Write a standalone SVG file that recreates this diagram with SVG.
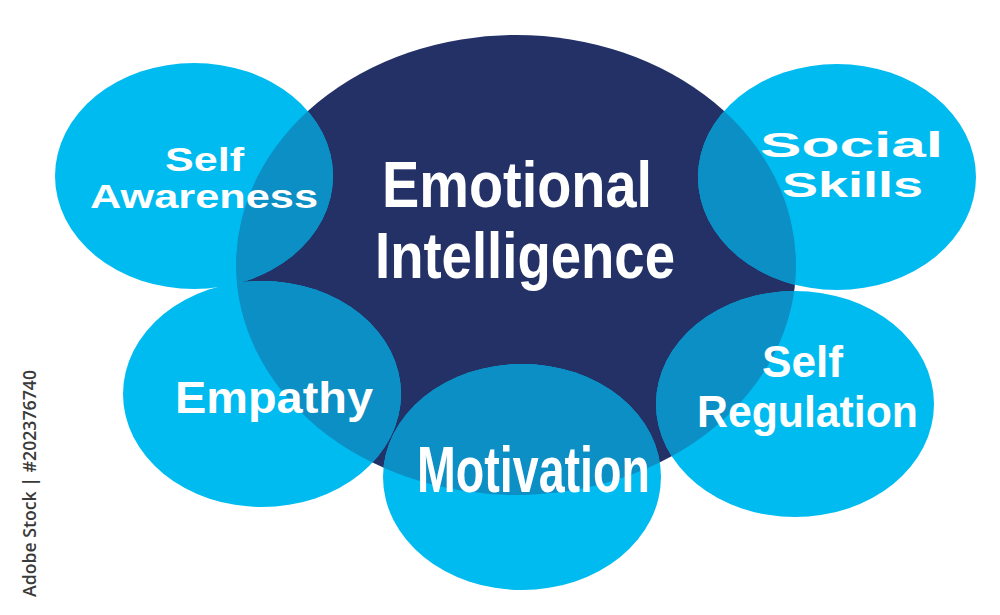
<svg xmlns="http://www.w3.org/2000/svg" width="1000" height="615" viewBox="0 0 1000 615">
<style>
.sat{fill:#00bbf0}
.ov{fill:#0b8fc5}
.core{fill:#233166}
.t{font-family:"Liberation Sans",Arial,sans-serif;font-weight:bold;fill:#ffffff;text-anchor:middle}
.wm{font-family:"Open Sans","Liberation Sans",sans-serif;font-weight:600;fill:#3a3a3a;font-size:18px}
</style>
<defs>
<clipPath id="clipEI"><ellipse cx="516" cy="265" rx="280" ry="230"/></clipPath>
</defs>
<rect width="1000" height="615" fill="#ffffff"/>
<g id="emotional-intelligence">
<ellipse class="core" cx="516" cy="265" rx="280" ry="230"/>
<text class="t" x="517" y="207" font-size="65" textLength="270" lengthAdjust="spacingAndGlyphs">Emotional</text>
<text class="t" x="525" y="278" font-size="65" textLength="300" lengthAdjust="spacingAndGlyphs">Intelligence</text>
</g>
<g id="self-awareness">
<ellipse class="sat" cx="194" cy="176" rx="139" ry="113"/>
<ellipse class="ov" cx="194" cy="176" rx="139" ry="113" clip-path="url(#clipEI)"/>
<text class="t" x="204.5" y="171" font-size="34" textLength="79" lengthAdjust="spacingAndGlyphs">Self</text>
<text class="t" x="204" y="208" font-size="34" textLength="228" lengthAdjust="spacingAndGlyphs">Awareness</text>
</g>
<g id="social-skills">
<ellipse class="sat" cx="837" cy="177" rx="139" ry="113"/>
<ellipse class="ov" cx="837" cy="177" rx="139" ry="113" clip-path="url(#clipEI)"/>
<text class="t" x="851.5" y="157" font-size="35" textLength="183" lengthAdjust="spacingAndGlyphs">Social</text>
<text class="t" x="852.5" y="197" font-size="35" textLength="141" lengthAdjust="spacingAndGlyphs">Skills</text>
</g>
<g id="empathy">
<ellipse class="sat" cx="262" cy="394" rx="139" ry="113"/>
<ellipse class="ov" cx="262" cy="394" rx="139" ry="113" clip-path="url(#clipEI)"/>
<text class="t" x="274" y="413" font-size="45" textLength="198" lengthAdjust="spacingAndGlyphs">Empathy</text>
</g>
<g id="self-regulation">
<ellipse class="sat" cx="795" cy="404" rx="139" ry="113"/>
<ellipse class="ov" cx="795" cy="404" rx="139" ry="113" clip-path="url(#clipEI)"/>
<text class="t" x="802.5" y="377" font-size="45" textLength="81" lengthAdjust="spacingAndGlyphs">Self</text>
<text class="t" x="807.5" y="427" font-size="45" textLength="221" lengthAdjust="spacingAndGlyphs">Regulation</text>
</g>
<g id="motivation">
<ellipse class="sat" cx="522" cy="477" rx="139" ry="113"/>
<ellipse class="ov" cx="522" cy="477" rx="139" ry="113" clip-path="url(#clipEI)"/>
<text class="t" x="533.5" y="492" font-size="65" textLength="233" lengthAdjust="spacingAndGlyphs">Motivation</text>
</g>
<text class="wm" transform="translate(36,597) rotate(-90)" textLength="227" lengthAdjust="spacingAndGlyphs">Adobe Stock | #202376740</text>
</svg>
